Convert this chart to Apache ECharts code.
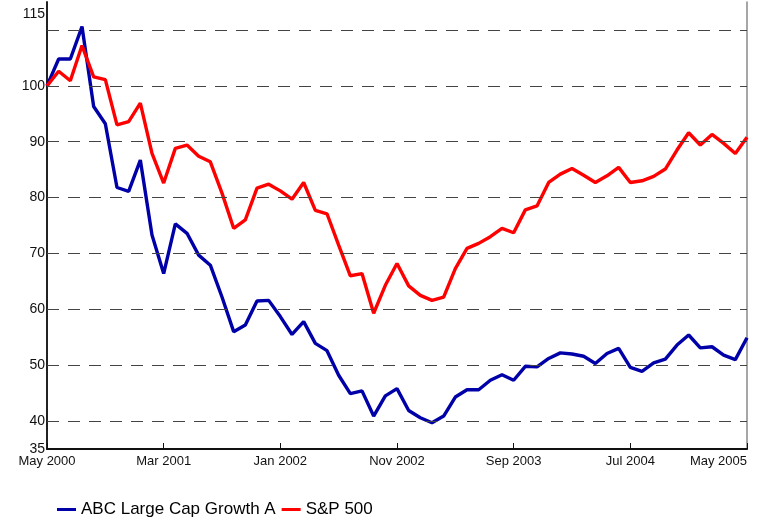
<!DOCTYPE html>
<html>
<head>
<meta charset="utf-8">
<script src="https://cdn.jsdelivr.net/npm/echarts@6/dist/echarts.min.js"></script>
<style>
  html, body { margin: 0; padding: 0; background: #fff; }
  #chart { width: 762px; height: 529px; }
</style>
</head>
<body>
<div id="chart"></div>
<script>
// monthly, May 2000 .. May 2005 (61 points)
const START_YEAR = 2000;
const START_MONTH = 4; // May (0-based)
const MONTH_NAMES = ['Jan', 'Feb', 'Mar', 'Apr', 'May', 'Jun', 'Jul', 'Aug', 'Sep', 'Oct', 'Nov', 'Dec'];

const growthA = [
  100, 104.8, 104.8, 110.6, 96.3, 93.2, 81.8, 81.1, 86.7, 73.3,
  66.4, 75.3, 73.6, 69.7, 67.9, 62.2, 56.0, 57.2, 61.5, 61.6,
  58.7, 55.5, 57.8, 53.9, 52.6, 48.2, 44.9, 45.4, 40.9, 44.5,
  45.8, 41.9, 40.6, 39.7, 40.9, 44.3, 45.6, 45.6, 47.3, 48.3,
  47.3, 49.8, 49.7, 51.2, 52.2, 52.0, 51.6, 50.3, 52.1, 53.0,
  49.6, 48.9, 50.4, 51.1, 53.6, 55.4, 53.1, 53.3, 51.8, 51.0,
  54.9
];

const sp500 = [
  100, 102.6, 100.9, 107.2, 101.6, 101.1, 93.0, 93.6, 96.9, 87.9,
  82.6, 88.8, 89.4, 87.4, 86.4, 80.8, 74.5, 76.0, 81.7, 82.4,
  81.2, 79.7, 82.7, 77.7, 77.1, 71.5, 66.0, 66.4, 59.3, 64.3,
  68.2, 64.2, 62.5, 61.6, 62.2, 67.3, 70.9, 71.8, 73.0, 74.5,
  73.7, 77.8, 78.5, 82.7, 84.2, 85.2, 84.0, 82.7, 83.9, 85.4,
  82.7, 83.0, 83.8, 85.1, 88.5, 91.6, 89.4, 91.3, 89.7, 87.9,
  90.8
];

const yTickLabels = [35, 40, 50, 60, 70, 80, 90, 100, 115];
const gridValues = [40, 50, 60, 70, 80, 90, 100, 110];

const months = growthA.map((_, i) => {
  const m = START_MONTH + i;
  return MONTH_NAMES[m % 12] + ' ' + (START_YEAR + Math.floor(m / 12));
});

const FONT = "'Liberation Sans', Arial, Helvetica, sans-serif";

const chart = echarts.init(document.getElementById('chart'), null, { renderer: 'canvas' });

chart.setOption({
  animation: false,
  backgroundColor: '#fff',
  grid: { left: 47, right: 15, top: 2, bottom: 80, containLabel: false },
  legend: {
    data: ['ABC Large Cap Growth A', 'S&P 500'],
    left: 52,
    top: 496,
    icon: 'rect',
    itemWidth: 19,
    itemHeight: 3,
    itemGap: 6,
    textStyle: { fontFamily: FONT, fontSize: 17, color: '#000' },
  },
  xAxis: {
    type: 'category',
    data: months,
    boundaryGap: false,
    axisLine: { lineStyle: { color: '#111', width: 2 } },
    axisTick: { show: true, inside: true, length: 6, interval: 9, lineStyle: { color: '#111', width: 1 } },
    axisLabel: {
      interval: 9,
      fontFamily: FONT,
      fontSize: 13,
      color: '#111',
      margin: 6,
      alignMaxLabel: 'right',
    },
    splitLine: { show: false },
  },
  yAxis: [
    {
      type: 'value',
      min: 35,
      max: 115,
      interval: 5,
      axisLine: { show: true, lineStyle: { color: '#222', width: 2 } },
      axisTick: { show: false },
      splitLine: { show: false },
      axisLabel: {
        fontFamily: FONT,
        fontSize: 14,
        color: '#111',
        margin: 2,
        formatter: (v) => {
          if (!yTickLabels.includes(v)) return '';
          if (v === 115) return '{top|115}';
          return String(v);
        },
        rich: {
          top: { fontFamily: FONT, fontSize: 14, color: '#111', padding: [24, 0, 0, 0] },
        },
      },
    },
    {
      type: 'value',
      position: 'right',
      min: 35,
      max: 115,
      interval: 5,
      axisLine: { show: true, lineStyle: { color: '#888', width: 1.5 } },
      axisTick: { show: false },
      axisLabel: { show: false },
      splitLine: { show: false },
    },
  ],
  series: [
    {
      name: 'grid',
      type: 'line',
      data: [],
      z: 1,
      silent: true,
      markLine: {
        silent: true,
        symbol: ['none', 'none'],
        label: { show: false },
        lineStyle: { color: '#444', width: 1.2, type: [12, 9] },
        data: gridValues.map(v => ({ yAxis: v })),
      },
    },
    {
      name: 'ABC Large Cap Growth A',
      type: 'line',
      data: growthA,
      z: 3,
      showSymbol: false,
      symbol: 'none',
      lineStyle: { color: '#0000a8', width: 3.4 },
      itemStyle: { color: '#0000a8' },
    },
    {
      name: 'S&P 500',
      type: 'line',
      data: sp500,
      z: 3,
      showSymbol: false,
      symbol: 'none',
      lineStyle: { color: '#ff0000', width: 3.4 },
      itemStyle: { color: '#ff0000' },
    },
  ],
});
</script>
</body>
</html>
